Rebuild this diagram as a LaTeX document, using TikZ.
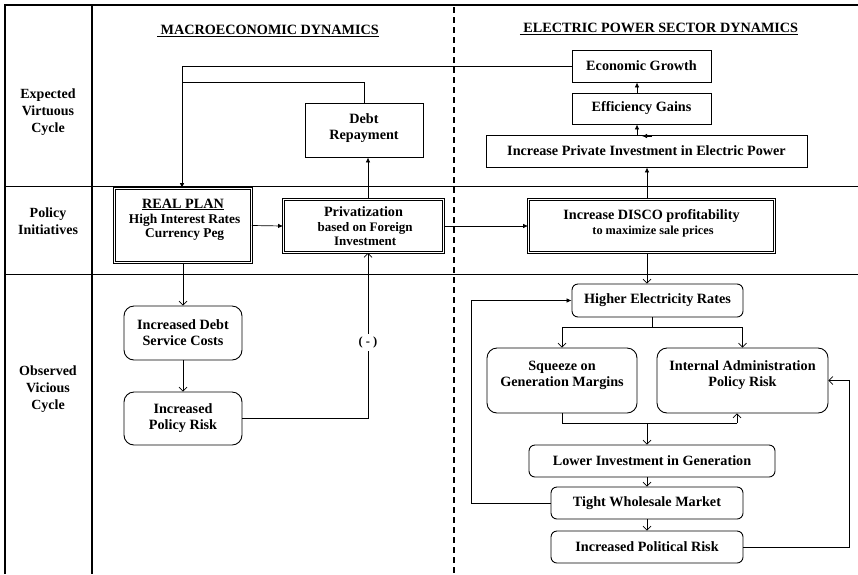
\documentclass[tikz,border=0pt]{standalone}
\usepackage{fontspec}
\setmainfont{Liberation Serif}
\usetikzlibrary{arrows.meta,calc}
\newcommand{\smtxt}[1]{\fontsize{#1}{14}\selectfont}
\tikzset{
  box/.style={draw,line width=0.9pt,inner sep=2pt,align=center,font=\fontsize{14.2}{16}\selectfont\bfseries},
  rbox/.style={box,rounded corners=6pt},
  rrbox/.style={box,rounded corners=10pt},
  dbox/.style={box,double,double distance=1.6pt,line width=0.8pt},
  rowlab/.style={align=center,font=\fontsize{14}{17}\selectfont\bfseries},
  title/.style={font=\fontsize{14.2}{16}\selectfont\bfseries},
  conn/.style={line width=0.7pt},
  fa/.style={conn,-{Latex[length=5pt,width=4.5pt]}},
  oa/.style={conn,-{Straight Barb[length=4pt,width=8pt]}},
  frame/.style={line width=2pt},
}
\begin{document}
\begin{tikzpicture}[x=1pt,y=-1pt]
\useasboundingbox (0,0) rectangle (858,574);
% frame
\draw[frame] (5,574) -- (5,5) -- (858,5);
\draw[frame] (92,5) -- (92,574);
\draw[line width=0.6pt] (5,186) -- (858,186);
\draw[line width=0.6pt] (5,274) -- (858,274);
\draw[line width=1.2pt,dash pattern=on 6pt off 4pt] (454,7) -- (454,574);
% row labels
\node[rowlab] (r1) at (48,112) {Expected\\Virtuous\\Cycle};
\node[rowlab] (r2) at (48,221) {Policy\\Initiatives};
\node[rowlab] (r3) at (48,389) {Observed\\Vicious\\Cycle};
% titles
\node[title] (t1) at (268,31) {\underline{\ MACROECONOMIC DYNAMICS}};
\node[title] (t2) at (659,29) {\underline{\ ELECTRIC POWER SECTOR DYNAMICS}};
% boxes
\node[box,minimum width=118,minimum height=54] (dr) at (364,130) {Debt\\Repayment\\[-10pt]\mbox{}};
\node[box,minimum width=139,minimum height=32] (eg) at (641.5,66) {Economic Growth};
\node[box,minimum width=139,minimum height=31] (ef) at (641.5,108.5) {Efficiency Gains};
\node[box,minimum width=321,minimum height=32] (pi) at (646.5,151) {Increase Private Investment in Electric Power};
\node[dbox,minimum width=137,minimum height=74] (rp) at (183,225.5) {\underline{REAL PLAN}\\[-1pt]{\smtxt{13.4} High Interest Rates}\\[-2pt]{\smtxt{13.4} Currency Peg}\\[-1pt]\mbox{}};
\node[dbox,minimum width=160,minimum height=53] (pv) at (363.5,226) {Privatization\\[-1pt]{\smtxt{13} based on Foreign}\\[-2pt]{\smtxt{13} Investment}};
\node[dbox,minimum width=246,minimum height=53] (dc) at (651.5,226) {Increase DISCO profitability\\[-1pt]{\smtxt{12.3} to maximize sale prices}\\[-8pt]\mbox{}};
\node[rbox,minimum width=171,minimum height=33] (he) at (657.5,300.5) {Higher Electricity Rates};
\node[rrbox,minimum width=150,minimum height=65] (sq) at (562,380.5) {Squeeze on\\Generation Margins\\[-3pt]\mbox{}};
\node[rrbox,minimum width=171,minimum height=65] (ia) at (742.5,380.5) {Internal Administration\\Policy Risk\\[-3pt]\mbox{}};
\node[rbox,minimum width=246,minimum height=32] (li) at (652,461) {Lower Investment in Generation};
\node[rbox,minimum width=192,minimum height=32] (tw) at (647,503) {Tight Wholesale Market};
\node[rbox,minimum width=192,minimum height=32] (ip) at (647,547) {Increased Political Risk};
\node[rrbox,minimum width=118,minimum height=54] (ds) at (183,333) {Increased Debt\\Service Costs};
\node[rrbox,minimum width=118,minimum height=53] (pr) at (183,418.5) {Increased\\Policy Risk};
% helper coordinates
\coordinate (c1) at (182,66);
\coordinate (c2) at (182,82);
\coordinate (px) at (368,0);
\coordinate (ex) at (637,0);
\coordinate (dx) at (647,0);
\coordinate (sp) at (652,327);
\coordinate (jn) at (647,423);
\coordinate (iy) at (737,0);
\coordinate (lx) at (471,0);
\coordinate (rx) at (849,0);
\coordinate (s1) at (652,136);
\coordinate (s2) at (642,136);
% connectors - macro
\draw[fa] (eg.west) -- (c1) -- (c1 |- rp.north);
\draw[conn] (dr.north) |- (c2);
\draw[fa] (pv.north -| px) -- (dr.south -| px);
\draw[fa] (rp.east) -- (pv.west);
\draw[fa] (pv.east) -- (dc.west);
\draw[oa] (rp.south) -- (ds.north);
\draw[oa] (ds.south) -- (pr.north);
\draw[oa] (pr.east) -- (pr.east -| px) -- (pv.south -| px)
  node[pos=0.46,fill=white,inner sep=3pt,font=\fontsize{12.5}{14}\selectfont\bfseries] (mn) {( - )};
% connectors - electric
\draw[fa] (dc.north -| dx) -- (pi.south -| dx);
\draw[fa] (pi.north -| ex) -- (ef.south -| ex);
\draw[fa] (ef.north -| ex) -- (eg.south -| ex);
\draw[fa] (s1) -- (s2);
\draw[oa] (dc.south -| dx) -- (he.north -| dx);
\draw[conn] (he.south -| sp) -- (sp);
\draw[conn] (sq.north |- sp) -- (ia.north |- sp);
\draw[oa] (sq.north |- sp) -- (sq.north);
\draw[oa] (ia.north |- sp) -- (ia.north);
\draw[conn] (sq.south) -- (sq.south |- jn) -- (jn -| iy);
\draw[oa] (jn -| iy) -- (ia.south -| iy);
\draw[oa] (jn) -- (li.north -| jn);
\draw[oa] (li.south -| dx) -- (tw.north);
\draw[oa] (tw.south) -- (ip.north);
\draw[fa] (tw.west) -- (tw.west -| lx) -- (he.west -| lx) -- (he.west);
\draw[oa] (ip.east) -- (ip.east -| rx) -- (ia.east -| rx) -- (ia.east);
\end{tikzpicture}
\end{document}
